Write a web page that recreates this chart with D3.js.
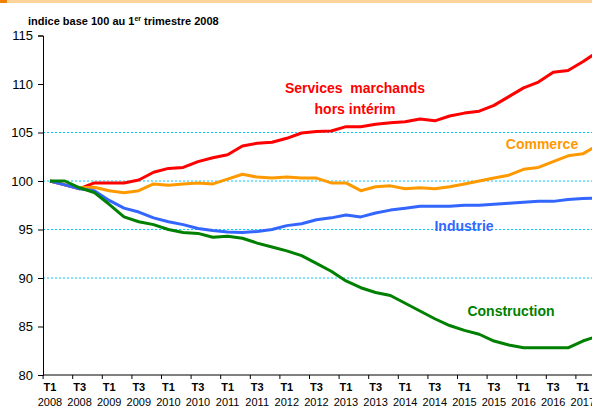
<!DOCTYPE html>
<html>
<head>
<meta charset="utf-8">
<script src="https://cdn.jsdelivr.net/npm/d3@7"></script>
<style>
  body { margin: 0; background: #fff; }
  svg { display: block; font-family: "Liberation Sans", Arial, sans-serif; }
</style>
</head>
<body>
<svg id="chart" width="592" height="406"></svg>
<script>
/**
 * Data: quarterly index, base 100 at T1 2008.
 */
const quarters = d3.range(38).map(i => `T${(i % 4) + 1} ${2008 + Math.floor(i / 4)}`);

const services = [100, 99.6, 99.2, 99.8, 99.8, 99.8, 100.1, 100.9, 101.3, 101.4,
  102.0, 102.4, 102.7, 103.6, 103.9, 104.0, 104.4, 104.95, 105.1, 105.15,
  105.6, 105.6, 105.85, 106.0, 106.1, 106.4, 106.2, 106.7, 107.0, 107.2,
  107.8, 108.7, 109.6, 110.2, 111.2, 111.4, 112.3, 113.3];

const commerce = [100, 99.6, 99.3, 99.35, 99.0, 98.8, 99.0, 99.7, 99.55, 99.7,
  99.8, 99.7, 100.2, 100.7, 100.4, 100.3, 100.4, 100.3, 100.3, 99.8,
  99.8, 99.0, 99.4, 99.5, 99.2, 99.3, 99.2, 99.4, 99.7, 100.0,
  100.3, 100.6, 101.2, 101.4, 102.0, 102.6, 102.8, 103.7];

const industrie = [100, 99.6, 99.2, 99.0, 98.0, 97.2, 96.8, 96.2, 95.8, 95.5,
  95.1, 94.9, 94.75, 94.7, 94.8, 95.0, 95.4, 95.6, 96.0, 96.2,
  96.5, 96.3, 96.7, 97.0, 97.2, 97.4, 97.4, 97.4, 97.5, 97.5,
  97.6, 97.7, 97.8, 97.9, 97.9, 98.1, 98.2, 98.25];

const construction = [100, 100.0, 99.3, 98.8, 97.6, 96.3, 95.8, 95.5, 95.0, 94.7,
  94.6, 94.2, 94.3, 94.1, 93.6, 93.2, 92.8, 92.3, 91.5, 90.7,
  89.7, 89.0, 88.5, 88.2, 87.4, 86.6, 85.8, 85.1, 84.6, 84.2,
  83.5, 83.1, 82.8, 82.8, 82.8, 82.8, 83.5, 84.0];

const yTicks = [80, 85, 90, 95, 100, 105, 110, 115];
const gridValues = [90, 95, 100, 105];

const series = [
  { key: 'Services', values: services, color: '#ff0000' },
  { key: 'Commerce', values: commerce, color: '#ff9900' },
  { key: 'Industrie', values: industrie, color: '#3366ff' },
  { key: 'Construction', values: construction, color: '#008000' }
];

/**
 * Layout.
 */
const svg = d3.select('#chart');
const plot = { left: 43, top: 35.5, bottom: 375 };
const step = 14.8;

const xScale = d3.scalePoint()
  .domain(quarters)
  .range([50, 50 + step * (quarters.length - 1)]);
const yScale = d3.scaleLinear()
  .domain([80, 115])
  .range([plot.bottom, plot.top]);

// Top banner strip
svg.append('rect').attr('x', 0).attr('y', 0).attr('width', 592).attr('height', 3).attr('fill', '#fcd49a');
svg.append('rect').attr('x', 0).attr('y', 0).attr('width', 7).attr('height', 3).attr('fill', '#f08000');

// Title
const title = svg.append('text')
  .attr('x', 28).attr('y', 25)
  .attr('font-size', 11).attr('font-weight', 'bold').attr('fill', '#000');
title.append('tspan').text('indice base 100 au 1');
title.append('tspan').attr('font-size', 7).attr('dy', -4).text('er');
title.append('tspan').attr('dy', 4).text(' trimestre 2008');

// Gridlines
svg.append('g')
  .selectAll('line')
  .data(gridValues)
  .join('line')
    .attr('x1', plot.left).attr('x2', 592)
    .attr('y1', d => yScale(d)).attr('y2', d => yScale(d))
    .attr('stroke', '#00ccff')
    .attr('stroke-width', 1)
    .attr('stroke-dasharray', '2,2');

// Y axis
const yAxis = d3.axisLeft(yScale).tickValues(yTicks).tickSize(5).tickPadding(5);
const yAxisG = svg.append('g')
  .attr('transform', `translate(${plot.left},0)`)
  .call(yAxis);
yAxisG.select('.domain').attr('stroke', '#000');
yAxisG.selectAll('text').attr('font-size', 13).attr('fill', '#000')
  .attr('font-family', '"Liberation Sans", Arial, sans-serif');

// X axis: ticks at semester boundaries, labels at T1/T3 points
const labelQuarters = quarters.filter((q, i) => i % 2 === 0);
const xAxisG = svg.append('g').attr('transform', `translate(0,${plot.bottom})`);
xAxisG.append('line')
  .attr('x1', plot.left).attr('x2', 592)
  .attr('stroke', '#000');
xAxisG.selectAll('.tick')
  .data(labelQuarters)
  .join('line')
    .attr('class', 'tick')
    .attr('x1', d => xScale(d) - step / 2 + 0.5)
    .attr('x2', d => xScale(d) - step / 2 + 0.5)
    .attr('y1', 0).attr('y2', 4)
    .attr('stroke', '#000');
const xLabels = xAxisG.selectAll('.xlabel')
  .data(labelQuarters)
  .join('text')
    .attr('class', 'xlabel')
    .attr('text-anchor', 'middle')
    .attr('font-size', 11)
    .attr('font-weight', 'bold')
    .attr('fill', '#000');
xLabels.append('tspan')
  .attr('x', d => xScale(d)).attr('y', 16)
  .text(d => d.split(' ')[0]);
xLabels.append('tspan')
  .attr('x', d => xScale(d)).attr('y', 31)
  .attr('font-weight', 'normal')
  .text(d => d.split(' ')[1]);

// Lines
const line = d3.line()
  .x((d, i) => xScale(quarters[i]))
  .y(d => yScale(d));

svg.append('g')
  .selectAll('path')
  .data(series)
  .join('path')
    .attr('fill', 'none')
    .attr('stroke', d => d.color)
    .attr('stroke-width', 3)
    .attr('stroke-linejoin', 'round')
    .attr('d', d => line(d.values));

// Series labels
const labels = [
  { lines: ['Services  marchands', 'hors intérim'], x: 355, y: 93, color: '#ff0000' },
  { lines: ['Commerce'], x: 542, y: 149, color: '#ff9900' },
  { lines: ['Industrie'], x: 464, y: 231, color: '#3366ff' },
  { lines: ['Construction'], x: 511, y: 316, color: '#008000' }
];
labels.forEach(l => {
  const t = svg.append('text')
    .attr('text-anchor', 'middle')
    .attr('font-size', 14)
    .attr('font-weight', 'bold')
    .attr('fill', l.color)
    .style('white-space', 'pre');
  l.lines.forEach((s, i) => {
    t.append('tspan').attr('x', l.x).attr('y', l.y + i * 21).text(s);
  });
});
</script>
</body>
</html>
